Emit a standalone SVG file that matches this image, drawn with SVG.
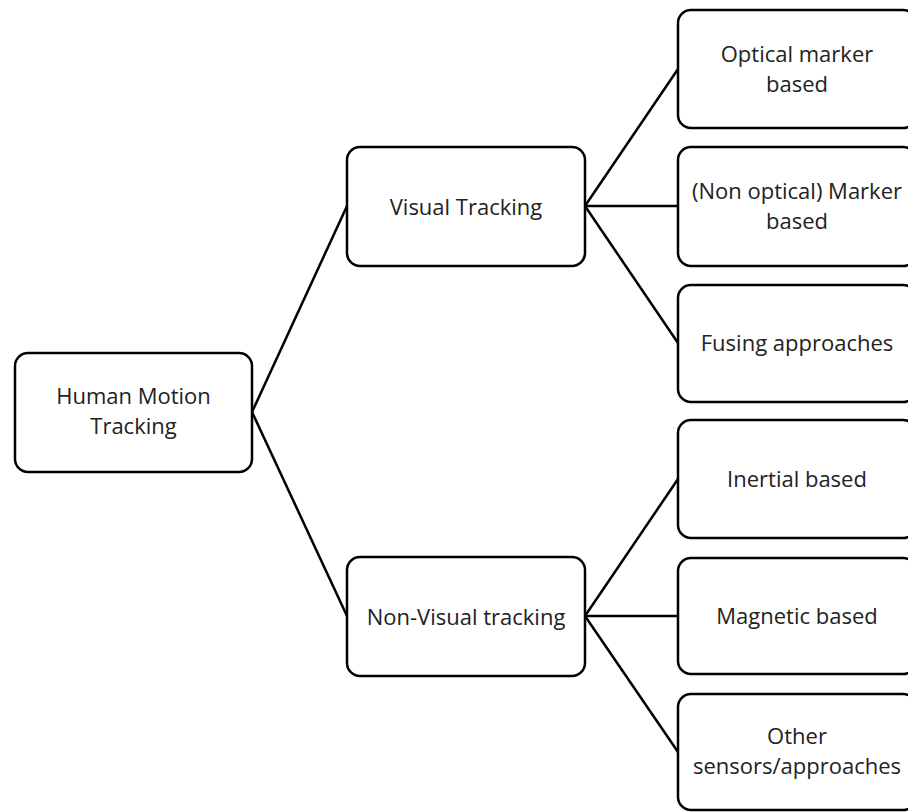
<svg xmlns="http://www.w3.org/2000/svg" width="908" height="812" viewBox="0 0 908 812">
<style>
.box{fill:#fff;stroke:#000;stroke-width:2.5}
.lbl{font-family:"Open Sans","Noto Sans",sans-serif;font-size:22px;fill:#222;text-anchor:middle}
.con{stroke:#000;stroke-width:2.5;fill:none}
</style>
<rect width="908" height="812" fill="#fff"/>
<g id="connectors">
<line class="con" x1="252" y1="412" x2="347" y2="206"/>
<line class="con" x1="252" y1="412" x2="347" y2="616"/>
<line class="con" x1="585" y1="206" x2="678" y2="69"/>
<line class="con" x1="585" y1="206" x2="678" y2="206"/>
<line class="con" x1="585" y1="206" x2="678" y2="343"/>
<line class="con" x1="585" y1="616" x2="678" y2="479"/>
<line class="con" x1="585" y1="616" x2="678" y2="616"/>
<line class="con" x1="585" y1="616" x2="678" y2="752"/>
</g>
<g id="root">
<rect class="box" x="15" y="353" width="237" height="119" rx="13"/>
<text class="lbl" x="133.5" y="404">Human Motion</text>
<text class="lbl" x="133.5" y="434">Tracking</text>
</g>
<g id="visual">
<rect class="box" x="347" y="147" width="238" height="119" rx="13"/>
<text class="lbl" x="466" y="215">Visual Tracking</text>
</g>
<g id="nonvisual">
<rect class="box" x="347" y="557" width="238" height="119" rx="13"/>
<text class="lbl" x="466" y="625">Non-Visual tracking</text>
</g>
<g id="optical">
<rect class="box" x="678" y="10" width="238" height="118" rx="13"/>
<text class="lbl" x="797" y="62">Optical marker</text>
<text class="lbl" x="797" y="92">based</text>
</g>
<g id="nonoptical">
<rect class="box" x="678" y="147" width="238" height="119" rx="13"/>
<text class="lbl" x="797" y="199">(Non optical) Marker</text>
<text class="lbl" x="797" y="229">based</text>
</g>
<g id="fusing">
<rect class="box" x="678" y="285" width="238" height="117" rx="13"/>
<text class="lbl" x="797" y="351">Fusing approaches</text>
</g>
<g id="inertial">
<rect class="box" x="678" y="420" width="238" height="118" rx="13"/>
<text class="lbl" x="797" y="487">Inertial based</text>
</g>
<g id="magnetic">
<rect class="box" x="678" y="558" width="238" height="116" rx="13"/>
<text class="lbl" x="797" y="624">Magnetic based</text>
</g>
<g id="other">
<rect class="box" x="678" y="694" width="238" height="116" rx="13"/>
<text class="lbl" x="797" y="744">Other</text>
<text class="lbl" x="797" y="774">sensors/approaches</text>
</g>
</svg>
